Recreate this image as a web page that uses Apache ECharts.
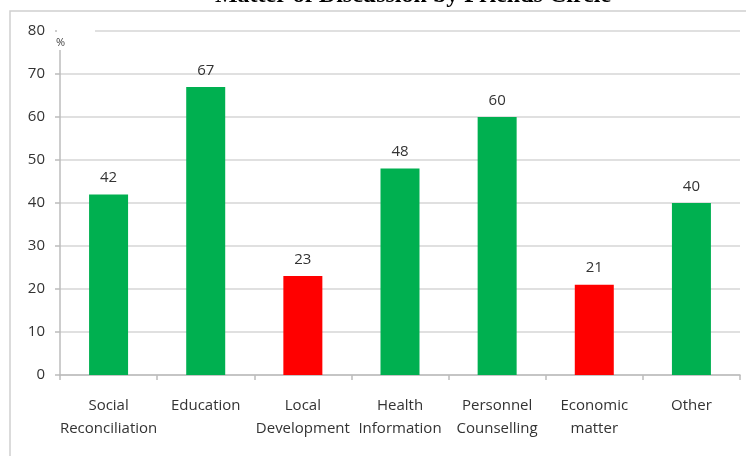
<!DOCTYPE html>
<html>
<head>
<meta charset="utf-8">
<script src="https://cdn.jsdelivr.net/npm/echarts@6/dist/echarts.min.js"></script>
<style>
  html, body { margin: 0; padding: 0; background: #fff; }
  #main { width: 746px; height: 456px; }
</style>
</head>
<body>
<div id="main"></div>
<script>
// data
const categories = ['Social\nReconciliation', 'Education', 'Local\nDevelopment', 'Health\nInformation', 'Personnel\nCounselling', 'Economic\nmatter', 'Other']
const values = [42, 67, 23, 48, 60, 21, 40]
const barColors = ['#00b050', '#00b050', '#ff0000', '#00b050', '#00b050', '#ff0000', '#00b050']

const font = 'Open Sans'

let myChart = echarts.init(document.getElementById('main'))

let option = {
    animation: false,
    title: {
        text: 'Matter of Discussion by Friends Circle',
        left: 408,
        textAlign: 'center',
        top: -21,
        textStyle: {
            fontFamily: 'Liberation Serif',
            fontWeight: 'bold',
            fontSize: 24,
            color: '#000'
        }
    },
    graphic: [
        // outer frame
        {
            type: 'rect',
            shape: { x: 10, y: 11, width: 760, height: 470 },
            style: { fill: 'none', stroke: '#d0d0d0', lineWidth: 1.5 },
            z: 0
        },
        // "%" unit label, covers the top of the axis
        {
            type: 'rect',
            shape: { x: 57, y: 24, width: 38, height: 26 },
            style: { fill: '#fff' },
            z: 10
        },
        {
            type: 'text',
            left: 56,
            top: 37,
            style: { text: '%', font: '11px "Open Sans"', fill: '#444' },
            z: 11
        }
    ],
    grid: {
        left: 60,
        right: 6,
        top: 31,
        bottom: 81
    },
    xAxis: {
        type: 'category',
        data: categories,
        axisLine: { lineStyle: { color: '#bcbcbc', width: 1.5 } },
        axisTick: { show: true, length: 5, lineStyle: { color: '#bcbcbc', width: 1.5 } },
        axisLabel: {
            margin: 19,
            fontFamily: font,
            fontSize: 15,
            color: '#333',
            lineHeight: 23,
            interval: 0
        }
    },
    yAxis: {
        type: 'value',
        min: 0,
        max: 80,
        interval: 10,
        axisLine: { show: true, lineStyle: { color: '#bcbcbc', width: 1.5 } },
        axisTick: { show: true, length: 5, lineStyle: { color: '#bcbcbc', width: 1.5 } },
        splitLine: { lineStyle: { color: '#d6d6d6', width: 1.5 } },
        axisLabel: {
            margin: 15,
            fontFamily: font,
            fontSize: 15,
            color: '#333'
        }
    },
    series: [{
        type: 'bar',
        data: values.map((v, i) => ({ value: v, itemStyle: { color: barColors[i] } })),
        barWidth: 39,
        label: {
            show: true,
            position: 'top',
            distance: 9,
            fontFamily: font,
            fontSize: 15,
            color: '#333'
        }
    }]
}

myChart.setOption(option)
</script>
</body>
</html>
